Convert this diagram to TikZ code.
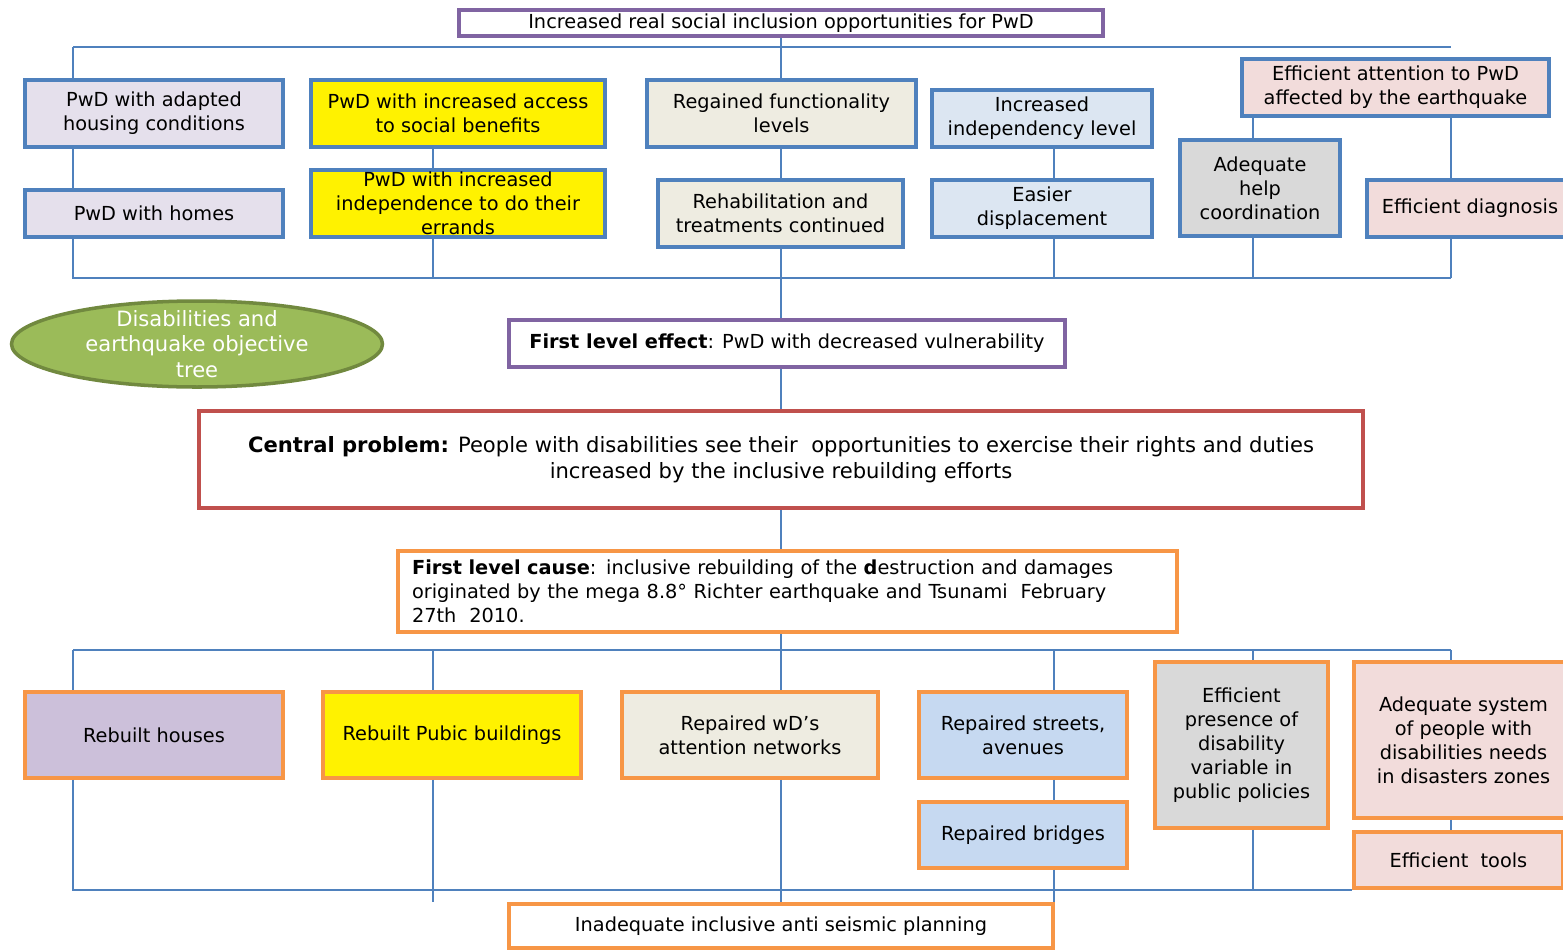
\documentclass[tikz,border=0pt]{standalone}
\usepackage{fontspec}
\setmainfont{DejaVu Sans}
\usepackage{tikz}
\usetikzlibrary{positioning,shapes.geometric}
\definecolor{linkblue}{HTML}{4F81BD}
\definecolor{goalpurple}{HTML}{8064A2}
\definecolor{probred}{HTML}{C0504D}
\definecolor{causeorange}{HTML}{F79646}
\definecolor{treegreen}{HTML}{9BBB59}
\definecolor{treegreendark}{HTML}{71893F}
\definecolor{lavender}{HTML}{E5E0EC}
\definecolor{lilac}{HTML}{CCC0DA}
\definecolor{beige}{HTML}{EEECE1}
\definecolor{paleblue}{HTML}{DCE6F2}
\definecolor{skyblue}{HTML}{C6D9F1}
\definecolor{softgrey}{HTML}{D9D9D9}
\definecolor{rose}{HTML}{F2DCDB}
\tikzset{boxsize/.style 2 args={minimum width=#1*0.02cm, minimum height=#2*0.02cm}}

\begin{document}
\begin{tikzpicture}[x=0.02cm,y=-0.02cm]
            \tikzstyle{every node}=[font=\fontsize{11}{13.6}\selectfont]
            \tikzstyle{bigtext}=[font=\fontsize{12}{14.7}\selectfont]
            \tikzstyle{box}=[draw, line width=2.2pt, align=center, inner sep=1pt]
            \tikzstyle{effectbox}=[box, draw=linkblue]
            \tikzstyle{causebox}=[box, draw=causeorange]
            \tikzstyle{link}=[draw=linkblue, line width=1pt]
            \useasboundingbox (0,0) rectangle (1563,951);
            % goal and effects
            \node [box, draw=goalpurple, boxsize={644}{26}] (goal) at (781,23) {Increased real social inclusion opportunities for PwD};
            \node [effectbox, fill=lavender, boxsize={258}{67}] (adapted) at (154,113.5) {PwD with adapted\\housing conditions};
            \node [effectbox, fill=lavender, boxsize={258}{47}] (homes) at (154,213.5) {PwD with homes};
            \node [effectbox, fill=yellow, boxsize={294}{67}] (access) at (458,113.5) {PwD with increased access\\to social benefits};
            \node [effectbox, fill=yellow, boxsize={294}{67}] (errands) at (458,203.5) {PwD with increased\\independence to do their\\errands};
            \node [effectbox, fill=beige, boxsize={269}{67}] (regained) at (781.5,113.5) {Regained functionality\\levels};
            \node [effectbox, fill=beige, boxsize={245}{67}] (rehab) at (780.5,213.5) {Rehabilitation and\\treatments continued};
            \node [effectbox, fill=paleblue, boxsize={220}{57}] (independency) at (1042,118.5) {Increased\\independency level};
            \node [effectbox, fill=paleblue, boxsize={220}{57}] (displacement) at (1042,208.5) {Easier\\displacement};
            \node [effectbox, fill=softgrey, boxsize={160}{96}] (coordination) at (1260,188) {Adequate\\help\\coordination};
            \node [effectbox, fill=rose, boxsize={307}{57}] (attention) at (1395.5,87.5) {Efficient attention to PwD\\affected by the earthquake};
            \node [effectbox, fill=rose, boxsize={206}{57}] (diagnosis) at (1470,208.5) {Efficient diagnosis};
            % middle
            \node [ellipse, draw=treegreendark, fill=treegreen, line width=2pt, boxsize={371}{86}] (title) at (197,344) {};
            \node [bigtext, text=white, align=center] at (title.center) {Disabilities and\\earthquake objective\\tree};
            \node [box, draw=goalpurple, boxsize={556}{47}] (effect) at (787,343.5) {\textbf{First level effect}: PwD with decreased vulnerability};
            \node [box, draw=probred, bigtext, boxsize={1164}{97}] (problem) at (781,459.5) {\textbf{Central problem:} People with disabilities see their\ \ opportunities to exercise their rights and duties\\increased by the inclusive rebuilding efforts};
            \node [causebox, align=left, inner xsep=0.28cm, text width=15.02cm, minimum height=1.62cm] (cause) at (787.5,591.5) {\textbf{First level cause}: inclusive rebuilding of the \textbf{d}estruction and damages\\originated by the mega 8.8° Richter earthquake and Tsunami\ \ February\\27th\ \ 2010.};
            % causes
            \node [causebox, fill=lilac, boxsize={258}{86}] (houses) at (154,735) {Rebuilt houses};
            \node [causebox, fill=yellow, boxsize={258}{86}] (publicb) at (452,735) {Rebuilt Pubic buildings};
            \node [causebox, fill=beige, boxsize={256}{86}] (networks) at (750,735) {Repaired wD’s\\attention networks};
            \node [causebox, fill=skyblue, boxsize={208}{86}] (streets) at (1023,735) {Repaired streets,\\avenues};
            \node [causebox, fill=skyblue, boxsize={208}{66}] (bridges) at (1023,835) {Repaired bridges};
            \node [causebox, fill=softgrey, boxsize={173}{166}] (policies) at (1241.5,745) {Efficient\\presence of\\disability\\variable in\\public policies};
            \node [causebox, fill=rose, boxsize={219}{156}] (needs) at (1463.5,740) {Adequate system\\of people with\\disabilities needs\\in disasters zones};
            \node [causebox, fill=rose, boxsize={209}{56}] (tools) at (1458.5,860) {Efficient\ \ tools};
            \node [causebox, boxsize={544}{44}] (planning) at (781,926) {Inadequate inclusive anti seismic planning};
            % upper links
            \coordinate (effL) at (73,47);
            \coordinate (effR) at (1451,47);
            \coordinate (effBL) at (73,278);
            \coordinate (effBR) at (1451,278);
            \coordinate (effB1) at (433,278);
            \coordinate (effB3) at (1054,278);
            \coordinate (effB4) at (1253,278);
            \draw [link] (effL) -- (effR);
            \draw [link] (goal.south) -- (regained.north -| goal.south);
            \draw [link] (effL) -- (adapted.north -| effL);
            \draw [link] (adapted.south -| effL) -- (homes.north -| effL);
            \draw [link] (homes.south -| effL) -- (effBL) -- (effBR);
            \draw [link] (access.south -| effB1) -- (errands.north -| effB1);
            \draw [link] (errands.south -| effB1) -- (effB1);
            \draw [link] (regained.south -| goal.south) -- (rehab.north -| goal.south);
            \draw [link] (rehab.south -| goal.south) -- (effect.north -| goal.south);
            \draw [link] (effect.south -| goal.south) -- (problem.north -| goal.south);
            \draw [link] (problem.south -| goal.south) -- (cause.north -| goal.south);
            \draw [link] (independency.south -| effB3) -- (displacement.north -| effB3);
            \draw [link] (displacement.south -| effB3) -- (effB3);
            \draw [link] (attention.south -| effB4) -- (coordination.north -| effB4);
            \draw [link] (coordination.south -| effB4) -- (effB4);
            \draw [link] (attention.south -| effBR) -- (diagnosis.north -| effBR);
            \draw [link] (diagnosis.south -| effBR) -- (effBR);
            % lower links
            \coordinate (cauL) at (73,650);
            \coordinate (cauR) at (1451,650);
            \coordinate (cau1) at (433,650);
            \coordinate (cau3) at (1054,650);
            \coordinate (cau4) at (1253,650);
            \coordinate (botL) at (73,890);
            \coordinate (botR) at (1352,890);
            \draw [link] (cauL) -- (cauR);
            \draw [link] (cause.south -| goal.south) -- (networks.north -| goal.south);
            \draw [link] (cauL) -- (houses.north -| cauL);
            \draw [link] (cau1) -- (publicb.north -| cau1);
            \draw [link] (cau3) -- (streets.north -| cau3);
            \draw [link] (cau4) -- (policies.north -| cau4);
            \draw [link] (cauR) -- (needs.north -| cauR);
            \draw [link] (houses.south -| botL) -- (botL) -- (botR);
            \draw [link] (publicb.south -| cau1) -- (planning.north -| cau1);
            \draw [link] (networks.south -| goal.south) -- (planning.north -| goal.south);
            \draw [link] (streets.south -| cau3) -- (bridges.north -| cau3);
            \draw [link] (bridges.south -| cau3) -- (planning.north -| cau3);
            \draw [link] (policies.south -| cau4) -- (botL -| cau4);
            \draw [link] (needs.south -| cauR) -- (tools.north -| cauR);
        \end{tikzpicture}
\end{document}
